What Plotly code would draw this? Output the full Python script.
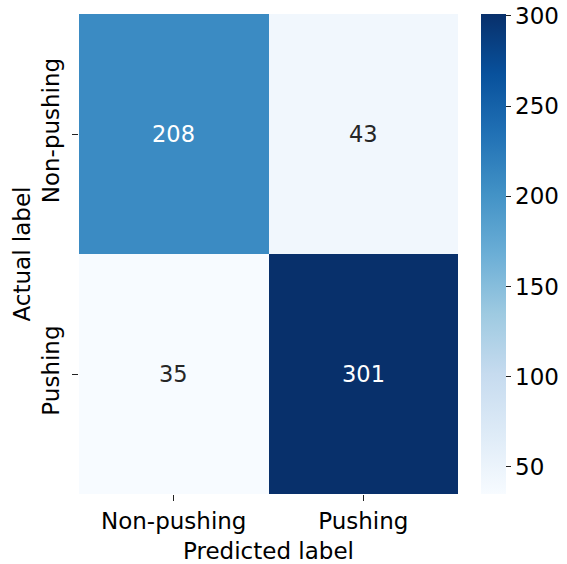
import plotly.graph_objects as go

actual_labels = ["Non-pushing", "Pushing"]
predicted_labels = ["Non-pushing", "Pushing"]
counts = [[208, 43],
          [35, 301]]
cbar_ticks = [50, 100, 150, 200, 250, 300]

FONT = "DejaVu Sans"
FS = 23
zmin, zmax = 35, 301

fig = go.Figure(go.Heatmap(
    z=counts, x=predicted_labels, y=actual_labels,
    colorscale="Blues", zmin=zmin, zmax=zmax, xgap=0, ygap=0,
    hoverinfo="skip",
    colorbar=dict(
        x=1.0607, xanchor="left", xpad=0, thickness=25,
        y=0, yanchor="bottom", len=1, lenmode="fraction", ypad=0,
        outlinewidth=0, tickvals=cbar_ticks, ticks="outside", ticklen=5,
        tickprefix="\u2009",
        tickcolor="#222", tickfont=dict(family=FONT, size=FS, color="black"),
    ),
))

mid = (zmin + zmax) / 2
for i, row in enumerate(counts):
    for j, v in enumerate(row):
        fig.add_annotation(
            x=predicted_labels[j], y=actual_labels[i], text=str(v),
            showarrow=False,
            font=dict(family=FONT, size=22.5, color="white" if v > mid else "#262626"),
        )

fig.update_layout(
    width=567, height=564,
    margin=dict(l=79, r=109, t=14, b=70, autoexpand=False),
    paper_bgcolor="white", plot_bgcolor="white",
    font=dict(family=FONT, size=FS, color="black"),
    xaxis=dict(
        title=dict(text="Predicted label", font=dict(family=FONT, size=FS), standoff=11),
        ticks="outside", ticklen=6, tickcolor="#222", showgrid=False, zeroline=False,
        tickfont=dict(family=FONT, size=FS), ticklabelstandoff=0, automargin=False,
    ),
    yaxis=dict(
        title=dict(text="Actual label", font=dict(family=FONT, size=FS), standoff=0),
        autorange="reversed",
        ticks="outside", ticklen=6, tickcolor="#222", showgrid=False, zeroline=False,
        tickangle=-90, tickfont=dict(family=FONT, size=FS), ticklabelstandoff=4,
        automargin=False,
    ),
)

fig.write_html("out.html")
